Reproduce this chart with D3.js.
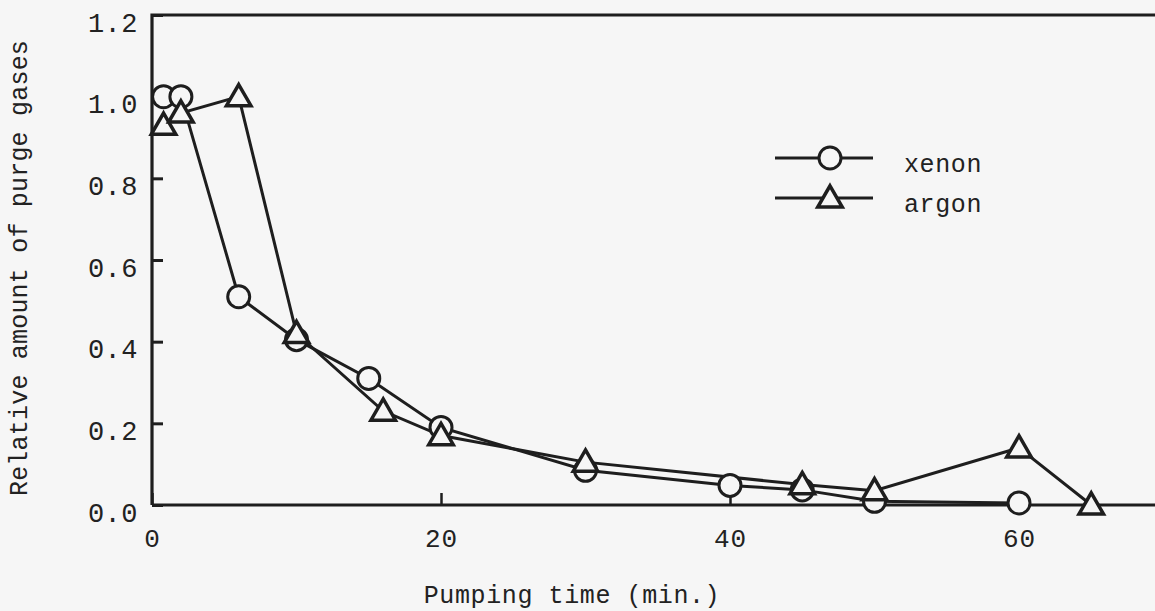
<!DOCTYPE html>
<html>
<head>
<meta charset="utf-8">
<script src="https://cdn.jsdelivr.net/npm/d3@7"></script>
<style>
  body { margin: 0; background: #f6f6f6; }
  svg { display: block; }
  text { font-family: "Liberation Mono", "DejaVu Sans Mono", monospace; fill: #222; }
</style>
</head>
<body>
<svg id="chart" width="1155" height="611"></svg>
<script>
// pumping time (min) and relative amounts
const xenonTime = [0.8, 2, 6, 10, 15, 20, 30, 40, 45, 50, 60];
const xenonAmount = [1.0, 1.0, 0.51, 0.405, 0.31, 0.19, 0.085, 0.048, 0.037, 0.009, 0.005];
const argonTime = [0.8, 2, 6, 10, 16, 20, 30, 45, 50, 60, 65];
const argonAmount = [0.93, 0.96, 1.0, 0.42, 0.23, 0.17, 0.105, 0.05, 0.035, 0.14, 0.0];
const xTicks = [0, 20, 40, 60];
const yTicks = [0, 0.2, 0.4, 0.6, 0.8, 1.0, 1.2];

const svg = d3.select('#chart');
const ink = '#1e1e1e';
const margin = { left: 152, top: 15, bottom: 505 };

const x = d3.scaleLinear().domain([0, 70]).range([margin.left, margin.left + 70 * 14.45]);
const y = d3.scaleLinear().domain([0, 1.2]).range([margin.bottom, margin.top]);

// frame (right side runs off the page like in the scan)
svg.append('path')
  .attr('d', `M${x(0)},${y(0)} L${x(0)},${y(1.2)} L${x(72)},${y(1.2)} M${x(0)},${y(0)} L${x(72)},${y(0)}`)
  .attr('fill', 'none').attr('stroke', ink).attr('stroke-width', 3.2);

// y axis, ticks pointing inward
const yAxis = svg.append('g')
  .attr('transform', `translate(${x(0)},0)`)
  .call(d3.axisLeft(y).tickValues(yTicks).tickFormat(d3.format('.1f'))
    .tickSizeInner(-11).tickSizeOuter(0).tickPadding(14));
yAxis.select('.domain').remove();
yAxis.selectAll('line').attr('stroke', ink).attr('stroke-width', 3);
yAxis.selectAll('text').attr('font-size', 27).attr('letter-spacing', 0.5)
  .attr('dy', '0.6em').attr('fill', ink).attr('font-family', null);

// x axis, ticks pointing inward
const xAxis = svg.append('g')
  .attr('transform', `translate(0,${y(0)})`)
  .call(d3.axisBottom(x).tickValues(xTicks).tickFormat(d3.format('d'))
    .tickSizeInner(-12).tickSizeOuter(0).tickPadding(24));
xAxis.select('.domain').remove();
xAxis.selectAll('line').attr('stroke', ink).attr('stroke-width', 2.5);
xAxis.selectAll('text').attr('font-size', 26).attr('letter-spacing', 1)
  .attr('fill', ink).attr('font-family', null);

// axis titles
svg.append('text')
  .attr('x', 572).attr('y', 603)
  .attr('text-anchor', 'middle')
  .attr('font-size', 25).attr('letter-spacing', 0.6)
  .text('Pumping time (min.)');

svg.append('text')
  .attr('transform', `translate(27,268) rotate(-90)`)
  .attr('text-anchor', 'middle')
  .attr('font-size', 25).attr('letter-spacing', 0.2)
  .text('Relative amount of purge gases');

const line = d3.line().x(d => x(d[0])).y(d => y(d[1]));
const xenon = xenonTime.map((t, i) => [t, xenonAmount[i]]);
const argon = argonTime.map((t, i) => [t, argonAmount[i]]);

const tri = d3.symbol().type(d3.symbolTriangle).size(260);

function drawSeries(data) {
  svg.append('path').datum(data).attr('d', line)
    .attr('fill', 'none').attr('stroke', ink).attr('stroke-width', 3);
}
drawSeries(xenon);
drawSeries(argon);

svg.append('g').selectAll('circle').data(xenon).join('circle')
  .attr('cx', d => x(d[0])).attr('cy', d => y(d[1])).attr('r', 11)
  .attr('fill', '#f6f6f6').attr('stroke', ink).attr('stroke-width', 3);

svg.append('g').selectAll('path').data(argon).join('path')
  .attr('d', tri)
  .attr('transform', d => `translate(${x(d[0])},${y(d[1]) + 2})`)
  .attr('fill', '#f6f6f6').attr('stroke', ink).attr('stroke-width', 3.5)
  .attr('stroke-linejoin', 'miter');

// legend
const legend = [
  { name: 'xenon', shape: 'circle', y: 158 },
  { name: 'argon', shape: 'triangle', y: 198 }
];
legend.forEach(l => {
  svg.append('line').attr('x1', 775).attr('x2', 873).attr('y1', l.y).attr('y2', l.y)
    .attr('stroke', ink).attr('stroke-width', 3);
  if (l.shape === 'circle') {
    svg.append('circle').attr('cx', 830).attr('cy', l.y).attr('r', 11)
      .attr('fill', '#f6f6f6').attr('stroke', ink).attr('stroke-width', 3);
  } else {
    svg.append('path').attr('d', tri).attr('transform', `translate(830,${l.y + 2})`)
      .attr('fill', '#f6f6f6').attr('stroke', ink).attr('stroke-width', 3.5);
  }
  svg.append('text').attr('x', 904).attr('y', l.y + 14)
    .attr('font-size', 25).attr('letter-spacing', 0.6).text(l.name);
});
</script>
</body>
</html>
